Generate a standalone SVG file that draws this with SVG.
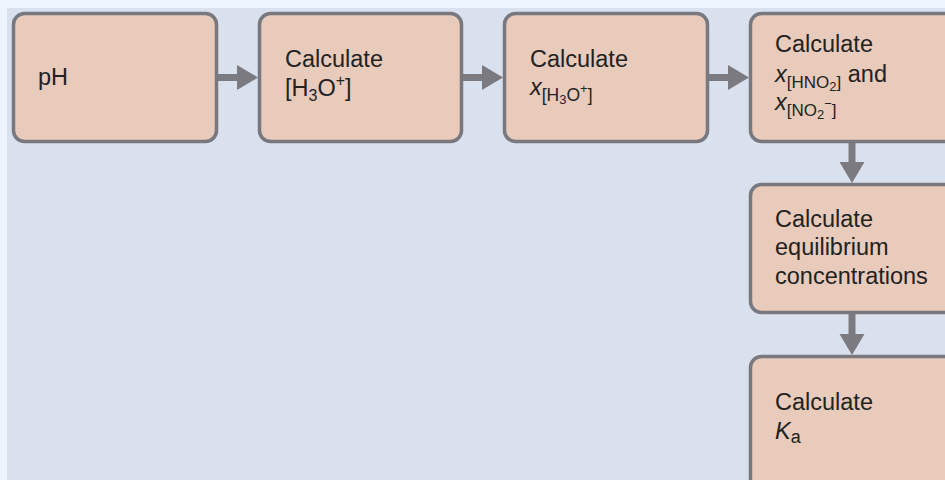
<svg xmlns="http://www.w3.org/2000/svg" width="945" height="480" viewBox="0 0 945 480">
<defs>
<style>
.box{fill:#e8cbbb;stroke:#78787e;stroke-width:3.5}
.t{font-family:"Liberation Sans",Arial,sans-serif;font-size:23.5px;fill:#222}
.line{stroke:#7a7a80;stroke-width:7;fill:none}
.head{fill:#7a7a80}
</style>
</defs>
<rect x="0" y="0" width="945" height="480" fill="#eef4fd"/>
<rect x="7" y="8" width="938" height="472" fill="#dae1ee"/>
<g id="connectors">
<line class="line" x1="218" y1="77.5" x2="240" y2="77.5"/>
<polygon class="head" points="237,65 258,77.5 237,90"/>
<line class="line" x1="463" y1="77.5" x2="485" y2="77.5"/>
<polygon class="head" points="482,65 503,77.5 482,90"/>
<line class="line" x1="709" y1="77.5" x2="731" y2="77.5"/>
<polygon class="head" points="728,65 749,77.5 728,90"/>
<line class="line" x1="852" y1="143" x2="852" y2="166"/>
<polygon class="head" points="839.5,162 864.5,162 852,183"/>
<line class="line" x1="852" y1="313" x2="852" y2="338"/>
<polygon class="head" points="839.5,334 864.5,334 852,355"/>
</g>
<g id="n1">
<rect class="box" x="13.5" y="13.5" width="203" height="128" rx="11"/>
<text class="t" x="38" y="85">pH</text>
</g>
<g id="n2">
<rect class="box" x="259.5" y="13.5" width="202" height="128" rx="11"/>
<text class="t" x="285" y="67">Calculate</text>
<text class="t" x="285" y="96">[H<tspan font-size="16" dy="5">3</tspan><tspan dy="-5">O</tspan><tspan font-size="16" dy="-10">+</tspan><tspan dy="10">]</tspan></text>
</g>
<g id="n3">
<rect class="box" x="504.5" y="13.5" width="203" height="128" rx="11"/>
<text class="t" x="530" y="67">Calculate</text>
<text class="t" x="530" y="95"><tspan font-style="italic">x</tspan><tspan font-size="17.5" dy="6">[H</tspan><tspan font-size="13" dy="3">3</tspan><tspan font-size="17.5" dy="-3">O</tspan><tspan font-size="13" dy="-8">+</tspan><tspan font-size="17.5" dy="8">]</tspan></text>
</g>
<g id="n4">
<rect class="box" x="750.5" y="13.5" width="210" height="128" rx="11"/>
<text class="t" x="775" y="52">Calculate</text>
<text class="t" x="775" y="82"><tspan font-style="italic">x</tspan><tspan font-size="17" dy="6">[HNO</tspan><tspan font-size="13" dy="3">2</tspan><tspan font-size="17" dy="-3">]</tspan><tspan dy="-6"> and</tspan></text>
<text class="t" x="775" y="110"><tspan font-style="italic">x</tspan><tspan font-size="17" dy="6">[NO</tspan><tspan font-size="13" dy="3">2</tspan><tspan font-size="13" dy="-11">−</tspan><tspan font-size="17" dy="8">]</tspan></text>
</g>
<g id="n5">
<rect class="box" x="750.5" y="184.5" width="210" height="128" rx="11"/>
<text class="t" x="775" y="227">Calculate</text>
<text class="t" x="775" y="255">equilibrium</text>
<text class="t" x="775" y="284">concentrations</text>
</g>
<g id="n6">
<rect class="box" x="750.5" y="356.5" width="210" height="140" rx="11"/>
<text class="t" x="775" y="410">Calculate</text>
<text class="t" x="775" y="439"><tspan font-style="italic">K</tspan><tspan font-size="18" dy="4">a</tspan></text>
</g>
</svg>
